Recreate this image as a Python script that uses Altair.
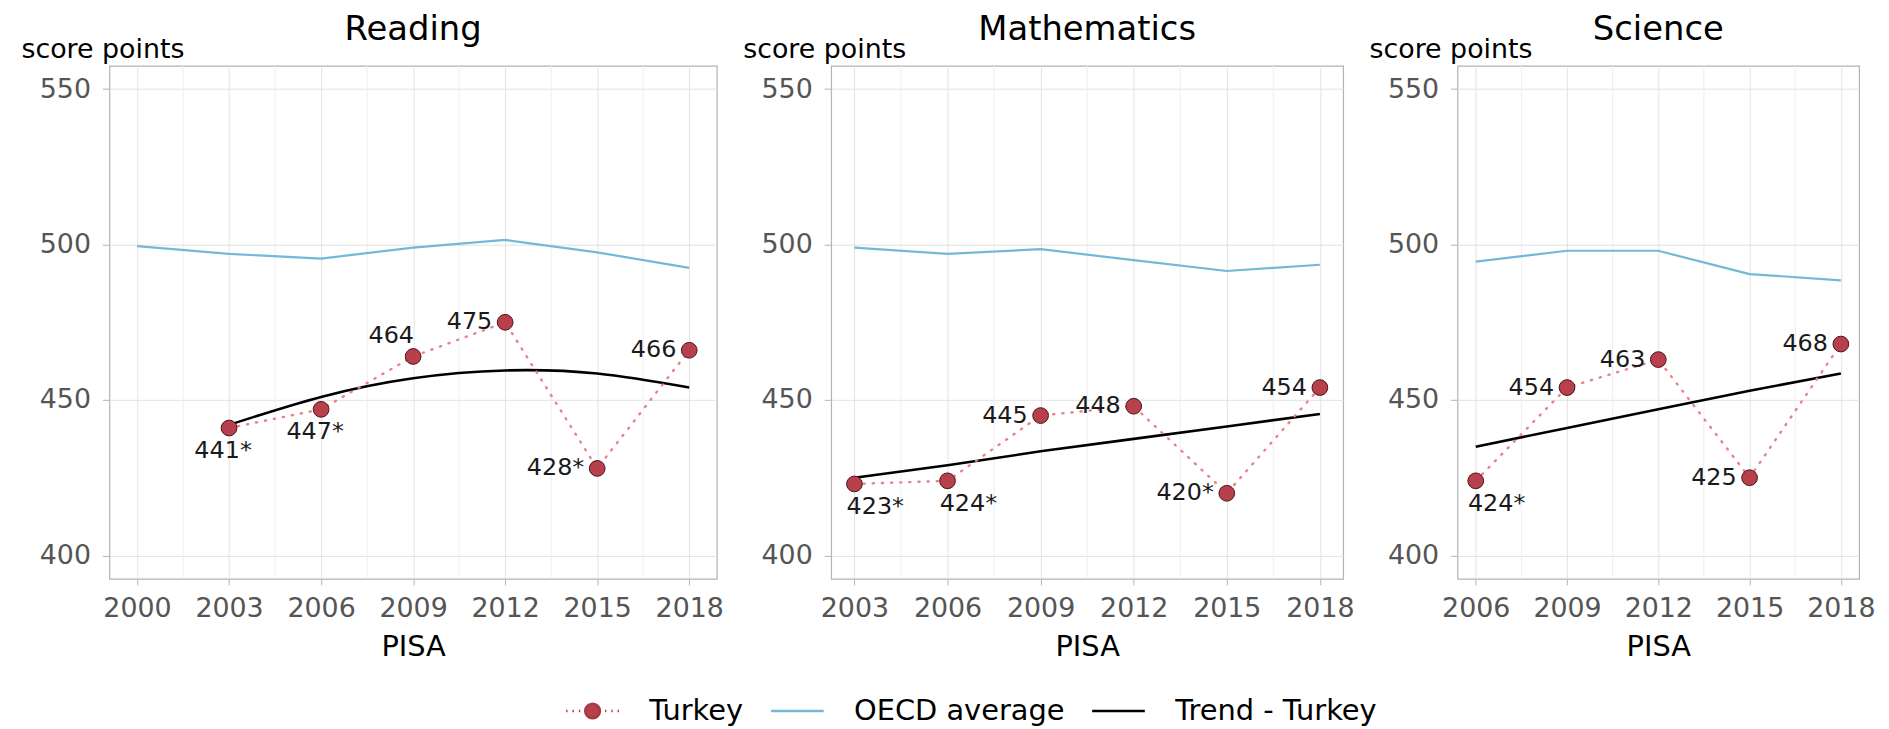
import altair as alt
import pandas as pd

FONT = "DejaVu Sans"

# ---------------- data ----------------
subjects = ["Reading", "Mathematics", "Science"]

reading_oecd_years = [2000, 2003, 2006, 2009, 2012, 2015, 2018]
reading_oecd = [499.5, 497, 495.5, 499, 501.5, 497.5, 492.5]
reading_years = [2003, 2006, 2009, 2012, 2015, 2018]
reading_turkey = [441, 447, 464, 475, 428, 466]
reading_trend = [442, 451, 457, 459.5, 458.5, 454]
reading_labels = ["441*", "447*", "464", "475", "428*", "466"]
reading_label_pos = ["below", "below", "above", "left", "left", "left"]
reading_ticks = [2000, 2003, 2006, 2009, 2012, 2015, 2018]

math_oecd_years = [2003, 2006, 2009, 2012, 2015, 2018]
math_oecd = [499, 497, 498.5, 495, 491.5, 493.5]
math_years = [2003, 2006, 2009, 2012, 2015, 2018]
math_turkey = [423, 424, 445, 448, 420, 454]
math_trend = [425, 429, 433.5, 437.5, 441.5, 445.5]
math_labels = ["423*", "424*", "445", "448", "420*", "454"]
math_label_pos = ["below_right", "below_right", "left", "left", "left", "left"]
math_ticks = [2003, 2006, 2009, 2012, 2015, 2018]

sci_oecd_years = [2006, 2009, 2012, 2015, 2018]
sci_oecd = [494.5, 498, 498, 490.5, 488.5]
sci_years = [2006, 2009, 2012, 2015, 2018]
sci_turkey = [424, 454, 463, 425, 468]
sci_trend = [435, 441, 447, 453, 458.5]
sci_labels = ["424*", "454", "463", "425", "468"]
sci_label_pos = ["below_right", "left", "left", "left", "left"]
sci_ticks = [2006, 2009, 2012, 2015, 2018]

y_ticks = [400, 450, 500, 550]
legend_labels = ["Turkey", "OECD average", "Trend - Turkey"]

# ---------------- style ----------------
TURKEY_FILL = "#b8404c"
TURKEY_EDGE = "#4a1419"
TURKEY_DOTS = "#e5828a"
OECD_COLOR = "#74b8d8"
TREND_COLOR = "#000000"

PLACEMENT = {
    "below": dict(dx=-6, dy=23, align="center"),
    "below_right": dict(dx=21, dy=23, align="center"),
    "above": dict(dx=-22, dy=-21, align="center"),
    "left": dict(dx=-13, dy=0, align="right"),
}

Y_DOMAIN = [392.5, 557.5]
HEIGHT = 516


def panel(title, oecd_years, oecd, years, turkey, trend, labels, label_pos,
          ticks, width, legend=False, curved=False):
    # ggplot-like expansion of the x range by 5 %
    span = ticks[-1] - ticks[0]
    xdom = [ticks[0] - 0.05 * span, ticks[-1] + 0.05 * span]
    minor = [(a + b) / 2 for a, b in zip(ticks[:-1], ticks[1:])]

    x_axis = alt.Axis(values=ticks, format="d", title="PISA", grid=True,
                      tickSize=6, labelPadding=11, titlePadding=11,
                      titleFontSize=29)
    X = lambda f: alt.X(f"{f}:Q", scale=alt.Scale(domain=xdom, nice=False, zero=False),
                        axis=x_axis)
    y_axis = alt.Axis(values=y_ticks, title="score points", grid=True,
                      tickSize=7, labelPadding=12, titleAngle=0,
                      titleAlign="left", titleBaseline="alphabetic",
                      titleX=-89, titleY=-8, titleFontSize=27)
    Y = lambda f: alt.Y(f"{f}:Q", scale=alt.Scale(domain=Y_DOMAIN, nice=False, zero=False),
                        axis=y_axis)

    oecd_df = pd.DataFrame({"year": oecd_years, "oecd": oecd})
    tdf = pd.DataFrame({"year": years, "turkey": turkey, "trend": trend,
                        "label": labels, "pos": label_pos})
    minor_df = pd.DataFrame({"year": minor})

    minor_grid = alt.Chart(minor_df).mark_rule(color="#eeeeee", strokeWidth=1).encode(x=X("year"))
    oecd_line = alt.Chart(oecd_df).mark_line(color=OECD_COLOR, strokeWidth=2.2).encode(
        x=X("year"), y=Y("oecd"))
    trend_line = alt.Chart(tdf).mark_line(
        color=TREND_COLOR, strokeWidth=2.6,
        interpolate="natural" if curved else "linear").encode(x=X("year"), y=Y("trend"))
    dotted = alt.Chart(tdf).mark_line(color=TURKEY_DOTS, strokeWidth=2.4,
                                      strokeDash=[1.2, 8], strokeCap="round").encode(
        x=X("year"), y=Y("turkey"))
    pts = alt.Chart(tdf).mark_point(filled=True, size=250, fill=TURKEY_FILL,
                                    stroke=TURKEY_EDGE, strokeWidth=1, opacity=1).encode(
        x=X("year"), y=Y("turkey"))

    layers = [minor_grid, oecd_line, trend_line, dotted, pts]
    for name, p in PLACEMENT.items():
        if name not in label_pos:
            continue
        layers.append(
            alt.Chart(tdf).transform_filter(alt.datum.pos == name).mark_text(
                font=FONT, fontSize=24, color="#1a1a1a", baseline="middle", **p
            ).encode(x=X("year"), y=Y("turkey"), text="label:N")
        )

    if legend:
        turkey_path = ("M-1,0L-0.95,0M-0.76,0L-0.71,0M-0.52,0L-0.47,0"
                       "M0.47,0L0.52,0M0.71,0L0.76,0M0.95,0L1,0"
                       "M0.28,0A0.28,0.28,0,1,1,-0.28,0A0.28,0.28,0,1,1,0.28,0Z")
        line_path = "M-1,0L1,0"
        leg = alt.Legend(title=None, orient="none", legendX=458, legendY=621,
                         direction="horizontal", labelFont=FONT, labelFontSize=29,
                         labelColor="#000000", labelLimit=500, symbolSize=2809,
                         symbolStrokeWidth=2.5, labelOffset=29, columnPadding=22)
        dom = legend_labels
        leg_df = pd.DataFrame({"series": legend_labels, "year": [ticks[0]] * 3,
                               "v": [Y_DOMAIN[0]] * 3})
        legend_layer = alt.Chart(leg_df).transform_filter("false").mark_point(
            filled=True, opacity=1).encode(
            x=X("year"), y=Y("v"),
            shape=alt.Shape("series:N", legend=leg, scale=alt.Scale(
                domain=dom, range=[turkey_path, line_path, line_path])),
            fill=alt.Fill("series:N", legend=leg, scale=alt.Scale(
                domain=dom, range=[TURKEY_FILL, "transparent", "transparent"])),
            stroke=alt.Stroke("series:N", legend=leg, scale=alt.Scale(
                domain=dom, range=["#a33a46", OECD_COLOR, TREND_COLOR])),
        )
        layers.append(legend_layer)

    return alt.layer(*layers).properties(
        width=width, height=HEIGHT,
        title=alt.Title(title, font=FONT, fontSize=34, fontWeight="normal",
                        color="#000000", anchor="middle", offset=-38,
                        baseline="alphabetic"),
    )


r = panel(subjects[0], reading_oecd_years, reading_oecd, reading_years, reading_turkey,
          reading_trend, reading_labels, reading_label_pos, reading_ticks, 611,
          curved=True, legend=True)
m = panel(subjects[1], math_oecd_years, math_oecd, math_years, math_turkey,
          math_trend, math_labels, math_label_pos, math_ticks, 515)
s = panel(subjects[2], sci_oecd_years, sci_oecd, sci_years, sci_turkey,
          sci_trend, sci_labels, sci_label_pos, sci_ticks, 404)

chart = alt.hconcat(r, m, s, spacing=115, bounds="flush").properties(
    padding={"left": 12, "top": 2, "right": 5, "bottom": 5}
).configure_view(
    stroke="#b3b3b3", strokeWidth=1.2
).configure_axis(
    domain=False, gridColor="#e2e2e2", gridWidth=1, tickColor="#b3b3b3",
    labelColor="#555555", labelFont=FONT, labelFontSize=27,
    titleFont=FONT, titleFontWeight="normal", titleColor="#000000",
).configure_legend(symbolLimit=0)

chart.save("out.html", embed_options={"renderer": "svg", "actions": False})
